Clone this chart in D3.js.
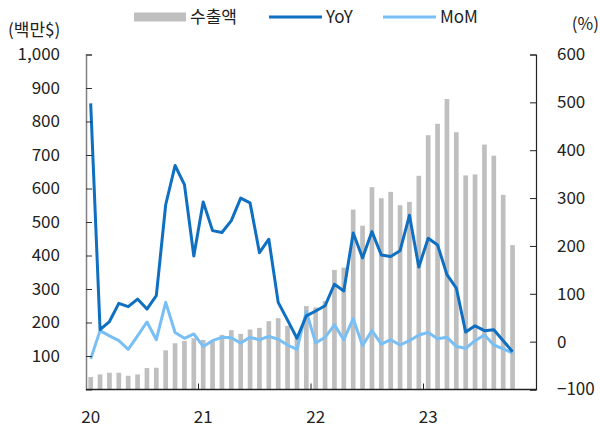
<!DOCTYPE html>
<html>
<head>
<meta charset="utf-8">
<script src="https://cdn.jsdelivr.net/npm/d3@7"></script>
<style>
  body { margin: 0; background: #fff; }
  svg text { font-family: "Noto Sans CJK KR", "Noto Sans", sans-serif; fill: #222; }
</style>
</head>
<body>
<div id="main-container"></div>
<script>
// DATA
const months = [
  "20-01","20-02","20-03","20-04","20-05","20-06","20-07","20-08","20-09","20-10","20-11","20-12",
  "21-01","21-02","21-03","21-04","21-05","21-06","21-07","21-08","21-09","21-10","21-11","21-12",
  "22-01","22-02","22-03","22-04","22-05","22-06","22-07","22-08","22-09","22-10","22-11","22-12",
  "23-01","23-02","23-03","23-04","23-05","23-06","23-07","23-08","23-09","23-10","23-11","23-12"
];
const yearLabels = ["20", "21", "22", "23"];
// 수출액 (백만$)
const exports = [37,45,50,50,41,45,64,65,117,138,145,153,
  148,143,163,177,166,179,184,204,213,190,155,249,
  245,264,357,364,537,489,604,571,590,550,560,638,
  759,793,867,768,639,642,731,698,581,431];
// YoY (%)
const yoy = [498,25,42,80,73,89,68,96,286,368,328,179,
  292,232,228,253,300,290,186,214,82,45,7,54,
  64,75,120,106,227,175,230,181,178,190,264,156,
  216,202,140,112,20,33,23,25,2,-21];
// MoM (%)
const mom = [-36,23,12,2,-16,12,41,4,82,19,7,16,
  -10,2,9,8,-3,9,4,11,5,-7,-16,63,
  -3,9,35,4,48,-8,23,-5,4,-7,2,14,
  19,6,9,-10,-14,2,14,-7,-15,-24];
const leftTicks = [100,200,300,400,500,600,700,800,900,1000];
const rightTicks = [-100,0,100,200,300,400,500,600];

// CONSTANTS
const width = 600, height = 431;
const plot = {left: 86, right: 536, top: 54.5, bottom: 389.5};
const barColour = "#bfbfbf", yoyColour = "#0f6fc0", momColour = "#78bff5";

const svg = d3.select("#main-container")
  .append("svg")
    .attr("width", width)
    .attr("height", height);

let x = d3.scaleBand()
  .domain(months)
  .range([plot.left, plot.right])
  .paddingInner(0.5)
  .paddingOuter(0.25);

let yLeft = d3.scaleLinear().domain([0, 1000]).range([plot.bottom, plot.top]);
let yRight = d3.scaleLinear().domain([-100, 600]).range([plot.bottom, plot.top]);

const cx = (i) => x(months[i]) + x.bandwidth() / 2;

// bars
svg.selectAll("rect.bar")
  .data(exports)
  .enter()
  .append("rect")
    .attr("class", "bar")
    .attr("x", (d, i) => x(months[i]))
    .attr("y", (d) => yLeft(d))
    .attr("width", x.bandwidth())
    .attr("height", (d) => yLeft(0) - yLeft(d))
    .attr("fill", barColour);

// lines
const line = d3.line()
  .x((d, i) => cx(i))
  .y((d) => yRight(d));

svg.append("path")
  .datum(mom)
  .attr("d", line)
  .attr("fill", "none")
  .attr("stroke", momColour)
  .attr("stroke-width", 3)
  .attr("stroke-linejoin", "round");

svg.append("path")
  .datum(yoy)
  .attr("d", line)
  .attr("fill", "none")
  .attr("stroke", yoyColour)
  .attr("stroke-width", 3)
  .attr("stroke-linejoin", "round");

// left axis
let leftAxis = svg.append("g")
  .attr("transform", `translate(${plot.left}, 0)`)
  .call(d3.axisRight(yLeft).tickValues(leftTicks).tickSize(6).tickFormat(d3.format(",")));
leftAxis.select(".domain").attr("stroke", "#808080").attr("stroke-width", 1.5);
leftAxis.selectAll(".tick line").attr("stroke", "#333");
leftAxis.selectAll("text")
  .attr("x", -26)
  .attr("text-anchor", "end")
  .attr("font-size", 17)
  .attr("font-family", null);

// right axis
let rightAxis = svg.append("g")
  .attr("transform", `translate(${plot.right}, 0)`)
  .call(d3.axisLeft(yRight).tickValues(rightTicks).tickSize(6));
rightAxis.select(".domain").attr("stroke", "#222").attr("stroke-width", 1.2);
rightAxis.selectAll(".tick line").attr("stroke", "#222");
rightAxis.selectAll("text")
  .attr("x", 21)
  .attr("text-anchor", "start")
  .attr("font-size", 17)
  .attr("font-family", null);

// bottom axis
const yearStarts = months.filter((m) => m.endsWith("-01"));
let bottom = svg.append("g").attr("transform", `translate(0, ${plot.bottom})`);
bottom.append("line")
  .attr("x1", plot.left).attr("x2", plot.right)
  .attr("stroke", "#222").attr("stroke-width", 1.5);
bottom.selectAll("line.tick")
  .data(yearStarts.slice(1))
  .enter()
  .append("line")
    .attr("class", "tick")
    .attr("x1", (d) => x(d) - x.step() * x.paddingInner() / 2)
    .attr("x2", (d) => x(d) - x.step() * x.paddingInner() / 2)
    .attr("y1", 0).attr("y2", -6)
    .attr("stroke", "#222");
bottom.selectAll("text")
  .data(yearStarts)
  .enter()
  .append("text")
    .attr("x", (d) => x(d) + x.bandwidth() / 2)
    .attr("y", 28)
    .attr("dy", "0.35em")
    .attr("text-anchor", "middle")
    .attr("font-size", 17)
    .text((d, i) => yearLabels[i]);

// unit labels
svg.append("text").attr("x", 8).attr("y", 30).attr("dy", "0.35em")
  .attr("font-size", 17).text("(백만$)");
svg.append("text").attr("x", 599).attr("y", 24).attr("dy", "0.35em")
  .attr("text-anchor", "end").attr("font-size", 17).text("(%)");

// legend
let legend = svg.append("g").attr("transform", "translate(0, 17)");
legend.append("rect").attr("x", 134).attr("y", -4.5).attr("width", 52).attr("height", 9).attr("fill", barColour);
legend.append("text").attr("x", 190).attr("dy", "0.35em").attr("font-size", 17).text("수출액");
legend.append("line").attr("x1", 269).attr("x2", 322).attr("stroke", yoyColour).attr("stroke-width", 3);
legend.append("text").attr("x", 326).attr("dy", "0.35em").attr("font-size", 17).text("YoY");
legend.append("line").attr("x1", 383).attr("x2", 436).attr("stroke", momColour).attr("stroke-width", 3);
legend.append("text").attr("x", 440).attr("dy", "0.35em").attr("font-size", 17).text("MoM");
</script>
</body>
</html>
